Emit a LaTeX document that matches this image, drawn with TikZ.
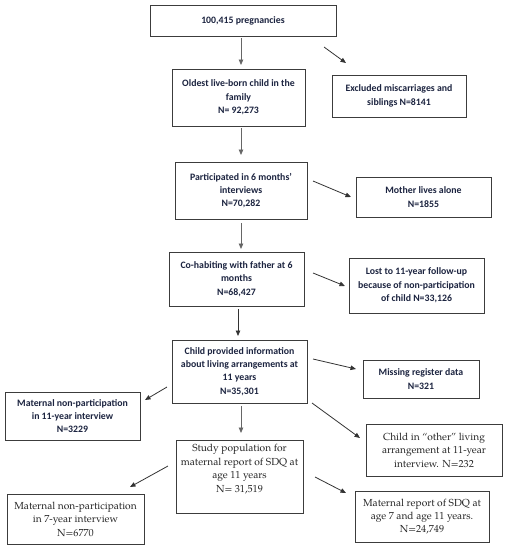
\documentclass[tikz,border=0pt]{standalone}
\usepackage{fontspec}
\setmainfont{Carlito}
\newfontfamily\serifbox{TeX Gyre Pagella}
\usetikzlibrary{arrows.meta}
\definecolor{txtblue}{RGB}{28,36,64}
\definecolor{boxline}{RGB}{60,60,60}
\tikzset{
  box/.style={draw=boxline, line width=0.9pt, inner sep=0pt, align=center,
    font=\fontsize{9.8}{13.4}\selectfont\bfseries, text=txtblue},
  sbox/.style={draw=boxline, line width=0.9pt, inner sep=0pt, align=center,
    font=\serifbox\fontsize{10.2}{13.4}\selectfont, text=black!85},
  arr/.style={draw=black!80, line width=0.8pt, -{Triangle[length=5.5pt,width=4.5pt]}},
  garr/.style={draw=black!60, line width=0.8pt, -{Triangle[length=5.5pt,width=4.5pt]}}
}
\begin{document}
\begin{tikzpicture}[x=1pt,y=-1pt]
\useasboundingbox[fill=white] (0,0) rectangle (508,550);
% boxes
\node[box, minimum width=186pt, minimum height=31pt] (b1) at (243,20.5) {100,415 pregnancies};
\node[box, minimum width=133pt, minimum height=57pt] (b2) at (238.5,97.5) {Oldest live-born child in the\\family\\N= 92,273};
\node[box, minimum width=134pt, minimum height=42pt] (ex) at (399,96) {Excluded miscarriages and\\siblings N=8141};
\node[box, minimum width=132pt, minimum height=57pt] (b3) at (241,190.5) {Participated in 6 months’\\interviews\\N=70,282};
\node[box, minimum width=135pt, minimum height=40pt] (mo) at (423.5,197) {Mother lives alone\\N=1855};
\node[box, minimum width=135pt, minimum height=54pt] (b4) at (236.5,279) {Co-habiting with father at 6\\months\\N=68,427};
\node[box, minimum width=135pt, minimum height=55pt] (lo) at (416.5,285.5) {Lost to 11-year follow-up\\because of non-participation\\of child N=33,126};
\node[box, minimum width=135pt, minimum height=63pt] (b5) at (239.5,371.5) {Child provided information\\about living arrangements at\\11 years\\N=35,301};
\node[box, minimum width=116pt, minimum height=38pt] (mi) at (421,379) {Missing register data\\N=321};
\node[box, minimum width=135pt, minimum height=48pt] (m11) at (72.5,416) {Maternal non-participation\\in 11-year interview\\N=3229};
\node[sbox, minimum width=136pt, minimum height=52pt] (ot) at (434,450) {Child in “other” living\\arrangement at 11-year\\interview. N=232};
\node[sbox, minimum width=127pt, minimum height=73pt] (st) at (239.5,476.5) {Study population for\\maternal report of SDQ at\\age 11 years\\N= 31,519\\[3pt]};
\node[sbox, minimum width=137pt, minimum height=50pt] (m7) at (75.5,519) {Maternal non-participation\\in 7-year interview\\N=6770};
\node[sbox, minimum width=134pt, minimum height=51pt] (sd) at (422,516.5) {Maternal report of SDQ at\\age 7 and age 11 years.\\N=24,749};
% arrow end points
\coordinate (p1a) at (241,38);  \coordinate (p1b) at (241,65);
\coordinate (p2a) at (241,128); \coordinate (p2b) at (241,155);
\coordinate (p3a) at (241,223); \coordinate (p3b) at (241,249);
\coordinate (p4a) at (238,309); \coordinate (p4b) at (238,336);
\coordinate (p5a) at (241,406); \coordinate (p5b) at (241,433);
\coordinate (q1a) at (324,47);  \coordinate (q1b) at (346,63);
\coordinate (q2a) at (313,181); \coordinate (q2b) at (351,197);
\coordinate (q3a) at (313,273); \coordinate (q3b) at (345,286);
\coordinate (q4a) at (313,359); \coordinate (q4b) at (356,369);
\coordinate (q5a) at (167,387); \coordinate (q5b) at (145,400);
\coordinate (q6a) at (312,403); \coordinate (q6b) at (360,438);
\coordinate (q7a) at (168,466); \coordinate (q7b) at (130,487);
\coordinate (q8a) at (315,477); \coordinate (q8b) at (346,493);
% arrows
\draw[garr] (p1a) -- (p1b);
\draw[garr] (p2a) -- (p2b);
\draw[garr] (p3a) -- (p3b);
\draw[arr] (p4a) -- (p4b);
\draw[garr] (p5a) -- (p5b);
\draw[arr] (q1a) -- (q1b);
\draw[arr] (q2a) -- (q2b);
\draw[arr] (q3a) -- (q3b);
\draw[arr] (q4a) -- (q4b);
\draw[arr] (q5a) -- (q5b);
\draw[arr] (q6a) -- (q6b);
\draw[arr] (q7a) -- (q7b);
\draw[arr] (q8a) -- (q8b);
\end{tikzpicture}
\end{document}
